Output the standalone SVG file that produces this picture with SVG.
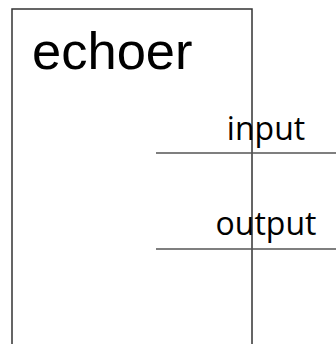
<svg xmlns="http://www.w3.org/2000/svg" width="336" height="344" viewBox="0 0 336 344">
  <style>
    .box { fill: none; stroke: #333; stroke-width: 1.5; }
    .port { stroke: #555; stroke-width: 1.5; fill: none; }
    .title { font-family: "Liberation Sans", Arial, sans-serif; font-size: 52.5px; fill: #000; }
    .plabel { font-family: "Open Sans", "DejaVu Sans", sans-serif; font-size: 32px; fill: #000; text-anchor: middle; }
  </style>
  <rect width="336" height="344" fill="#fff"/>
  <g id="echoer">
    <rect class="box" x="12" y="9" width="240" height="360"/>
    <text class="title" x="32" y="69">echoer</text>
  </g>
  <g id="connectors">
    <line class="port" x1="156" y1="153" x2="336" y2="153"/>
    <line class="port" x1="156" y1="249" x2="336" y2="249"/>
  </g>
  <g id="input">
    <text class="plabel" x="266" y="140">input</text>
  </g>
  <g id="output">
    <text class="plabel" x="266" y="235">output</text>
  </g>
</svg>
